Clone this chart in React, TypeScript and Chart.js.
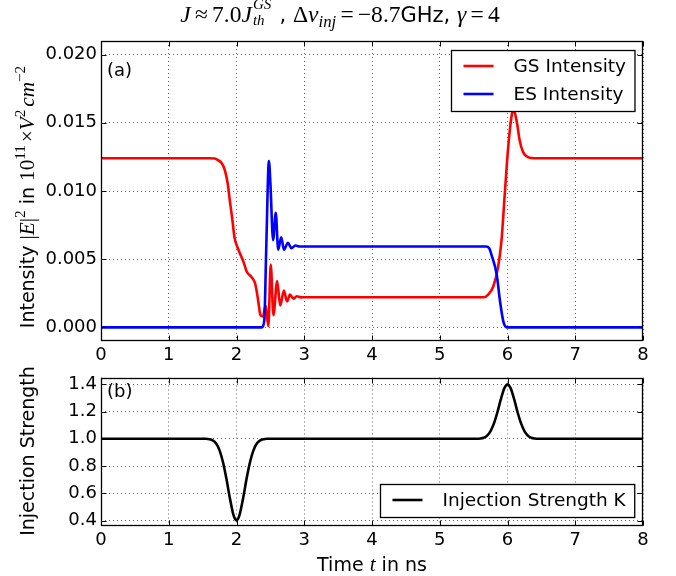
import React, { useEffect, useRef } from "react";
import { Chart, registerables } from "chart.js";

Chart.register(...registerables);

// ---- data -----------------------------------------------------------
// Ground-state intensity |E|^2 (10^11 V^2 cm^-2) vs time (ns)
const GS_TIME = [0, 1.6, 1.68, 1.72, 1.78, 1.83, 1.87, 1.9, 1.94, 1.97, 2.02, 2.1, 2.15, 2.22, 2.27, 2.3, 2.33, 2.35, 2.39, 2.43, 2.47, 2.505, 2.545, 2.6, 2.645, 2.7, 2.745, 2.79, 2.84, 2.89, 2.95, 3.0, 5.65, 5.715, 5.79, 5.86, 5.91, 5.96, 6.01, 6.06, 6.085, 6.11, 6.14, 6.18, 6.23, 6.3, 6.4, 8.0];
const GS_INTENSITY = [0.0124, 0.0124, 0.01238, 0.01228, 0.01205, 0.0115, 0.01055, 0.00935, 0.00785, 0.0066, 0.0058, 0.00485, 0.0041, 0.0037, 0.0033, 0.0026, 0.0016, 0.00095, 0.0008, 0.0016, 0.0001, 0.0046, 0.0009, 0.0034, 0.0016, 0.0027, 0.0019, 0.0024, 0.0021, 0.00228, 0.0022, 0.00221, 0.00221, 0.0024, 0.003, 0.0044, 0.0063, 0.0098, 0.0132, 0.0155, 0.016, 0.0157, 0.015, 0.0137, 0.01285, 0.01248, 0.0124, 0.0124];

// Excited-state intensity
const ES_TIME = [0, 2.37, 2.41, 2.44, 2.478, 2.5, 2.54, 2.58, 2.615, 2.66, 2.7, 2.76, 2.81, 2.87, 2.93, 5.68, 5.73, 5.765, 5.84, 5.89, 5.94, 5.99, 8.0];
const ES_INTENSITY = [0, 0, 0.0005, 0.006, 0.0122, 0.0106, 0.0064, 0.0084, 0.0057, 0.0066, 0.0057, 0.0062, 0.0058, 0.006, 0.00593, 0.00593, 0.0058, 0.0053, 0.0039, 0.0019, 0.0004, 0, 0];

// Injection strength K
const K_TIME = [0, 1.55, 1.6, 1.65, 1.7, 1.75, 1.8, 1.85, 1.9, 1.95, 1.975, 2.0, 2.025, 2.05, 2.1, 2.15, 2.2, 2.25, 2.3, 2.35, 2.4, 2.45, 5.55, 5.6, 5.65, 5.7, 5.75, 5.8, 5.85, 5.9, 5.95, 5.975, 6.0, 6.025, 6.05, 6.1, 6.15, 6.2, 6.25, 6.3, 6.35, 6.4, 6.45, 8];
const K_VALUE = [1, 1, 0.997, 0.988, 0.965, 0.915, 0.83, 0.71, 0.57, 0.45, 0.415, 0.4, 0.415, 0.45, 0.57, 0.71, 0.83, 0.915, 0.965, 0.988, 0.997, 1, 1, 1.002, 1.008, 1.023, 1.057, 1.113, 1.193, 1.287, 1.367, 1.39, 1.4, 1.39, 1.367, 1.287, 1.193, 1.113, 1.057, 1.023, 1.008, 1.002, 1, 1];

// ---- axes -----------------------------------------------------------
const TIME_TICKS = [0, 1, 2, 3, 4, 5, 6, 7, 8];
const INTENSITY_TICKS = [0, 0.005, 0.01, 0.015, 0.02];
const STRENGTH_TICKS = [0.4, 0.6, 0.8, 1.0, 1.2, 1.4];

const SANS = '"DejaVu Sans", Verdana, sans-serif';
const MATH = '"Liberation Serif", "DejaVu Serif", serif';
const TICK_FONT = { family: SANS, size: 18 };
const GRID_COLOR = "rgba(0,0,0,0.6)";

type LegendItem = { label: string; color: string };

// frame, inward tick marks, panel tag and boxed legend
const panelDecor = {
  id: "panelDecor",
  afterDatasetsDraw(chart: any, _args: any, opts: any) {
    const { ctx, chartArea: a, scales } = chart;
    const L = Math.round(a.left) + 0.5;
    const R = Math.round(a.right) - 0.5;
    const T = Math.round(a.top) + 0.5;
    const B = Math.round(a.bottom) - 0.5;
    ctx.save();
    ctx.strokeStyle = "#000";
    ctx.lineWidth = 1;
    const tl = 5;
    ctx.beginPath();
    for (const t of scales.x.ticks) {
      const px = Math.round(scales.x.getPixelForValue(t.value)) + 0.5;
      ctx.moveTo(px, B); ctx.lineTo(px, B - tl);
      ctx.moveTo(px, T); ctx.lineTo(px, T + tl);
    }
    for (const t of scales.y.ticks) {
      const py = Math.round(scales.y.getPixelForValue(t.value)) + 0.5;
      ctx.moveTo(L, py); ctx.lineTo(L + tl, py);
      ctx.moveTo(R, py); ctx.lineTo(R - tl, py);
    }
    ctx.stroke();
    ctx.lineWidth = 1.3;
    ctx.strokeRect(L, T, R - L, B - T);

    // panel tag
    ctx.fillStyle = "#000";
    ctx.font = `18px ${SANS}`;
    ctx.textBaseline = "middle";
    ctx.textAlign = "left";
    ctx.fillText(opts.tag, a.left + 6, a.top + 0.1 * (a.bottom - a.top));

    // legend
    const items: LegendItem[] = opts.items;
    ctx.font = `18.5px ${SANS}`;
    const padL = 12, padR = 9, lineLen = 30, gap = 20, rowH = 28, inset = 9;
    const textW = Math.max(...items.map((it) => ctx.measureText(it.label).width));
    const boxW = padL + lineLen + gap + textW + padR;
    const boxH = 33 + rowH * (items.length - 1);
    const bx = Math.round(a.right - inset - boxW) + 0.5;
    const by = opts.corner === "upper"
      ? Math.round(a.top + inset) + 0.5
      : Math.round(a.bottom - inset - boxH) + 0.5;
    ctx.fillStyle = "#fff";
    ctx.fillRect(bx, by, boxW, boxH);
    ctx.lineWidth = 1.3;
    ctx.strokeStyle = "#000";
    ctx.strokeRect(bx, by, boxW, boxH);
    items.forEach((it, i) => {
      const cy = by + 15.5 + rowH * i;
      ctx.strokeStyle = it.color;
      ctx.lineWidth = 2.6;
      ctx.beginPath();
      ctx.moveTo(bx + padL, cy);
      ctx.lineTo(bx + padL + lineLen, cy);
      ctx.stroke();
      ctx.fillStyle = "#000";
      ctx.fillText(it.label, bx + padL + lineLen + gap, cy + 1);
    });
    ctx.restore();
  },
};

function series(xs: number[], ys: number[]) {
  return xs.map((x, i) => ({ x, y: ys[i] }));
}

function panelOptions(p: {
  yMin: number; yMax: number; yTicks: number[]; yFmt: (v: number) => string;
  padTop: number; xAxisH: number; tag: string; items: LegendItem[]; corner: string;
}): any {
  const grid = { color: GRID_COLOR, lineWidth: 1, drawTicks: false };
  const border = { display: false, dash: [1, 3] };
  return {
    responsive: false,
    animation: false,
    events: [],
    layout: { padding: { top: p.padTop, right: 33, left: 0, bottom: 0 } },
    plugins: {
      legend: { display: false },
      tooltip: { enabled: false },
      title: { display: false },
      panelDecor: { tag: p.tag, items: p.items, corner: p.corner },
    },
    scales: {
      x: {
        type: "linear",
        min: 0,
        max: 8,
        afterBuildTicks: (s: any) => { s.ticks = TIME_TICKS.map((value) => ({ value })); },
        afterFit: (s: any) => { s.height = p.xAxisH; },
        border,
        grid,
        ticks: { font: TICK_FONT, color: "#000", padding: 4, autoSkip: false, maxRotation: 0, callback: (v: number) => String(v) },
      },
      y: {
        type: "linear",
        min: p.yMin,
        max: p.yMax,
        afterBuildTicks: (s: any) => { s.ticks = p.yTicks.map((value) => ({ value })); },
        afterFit: (s: any) => { s.width = 101; },
        border,
        grid,
        ticks: { font: TICK_FONT, color: "#000", padding: 4, autoSkip: false, callback: (v: number) => p.yFmt(v) },
      },
    },
  };
}

const lineStyle = { pointRadius: 0, borderWidth: 2.6, fill: false, cubicInterpolationMode: "monotone" as const };

type Kids = { children: React.ReactNode };
const M = ({ children }: Kids) => (
  <span style={{ fontFamily: MATH, fontStyle: "italic", fontSize: "1.12em" }}>{children}</span>
);
const R = ({ children }: Kids) => (
  <span style={{ fontFamily: MATH, fontSize: "1.12em" }}>{children}</span>
);
const Sup = ({ children }: Kids) => (
  <span style={{ fontFamily: MATH, fontSize: "0.8em", verticalAlign: "0.6em" }}>{children}</span>
);
const Sub = ({ children }: Kids) => (
  <span style={{ fontFamily: MATH, fontStyle: "italic", fontSize: "0.8em", verticalAlign: "-0.3em" }}>{children}</span>
);
const Gap = ({ w = 0.2 }: { w?: number }) => <span style={{ display: "inline-block", width: `${w}em` }} />;

export default function App() {
  const topRef = useRef<HTMLCanvasElement>(null);
  const botRef = useRef<HTMLCanvasElement>(null);

  useEffect(() => {
    const top = new Chart(topRef.current!, {
      type: "line",
      data: {
        datasets: [
          { label: "ES Intensity", data: series(ES_TIME, ES_INTENSITY), borderColor: "#0000ff", order: 0, ...lineStyle },
          { label: "GS Intensity", data: series(GS_TIME, GS_INTENSITY), borderColor: "#ff0000", order: 1, ...lineStyle },
        ],
      },
      options: panelOptions({
        yMin: -0.001, yMax: 0.021, yTicks: INTENSITY_TICKS, yFmt: (v) => v.toFixed(3),
        padTop: 41, xAxisH: 24, tag: "(a)", corner: "upper",
        items: [
          { label: "GS Intensity", color: "#ff0000" },
          { label: "ES Intensity", color: "#0000ff" },
        ],
      }),
      plugins: [panelDecor],
    });
    const bottom = new Chart(botRef.current!, {
      type: "line",
      data: {
        datasets: [
          { label: "Injection Strength K", data: series(K_TIME, K_VALUE), borderColor: "#000000", ...lineStyle },
        ],
      },
      options: panelOptions({
        yMin: 0.36, yMax: 1.45, yTicks: STRENGTH_TICKS, yFmt: (v) => v.toFixed(1),
        padTop: 17.5, xAxisH: 50, tag: "(b)", corner: "lower",
        items: [{ label: "Injection Strength K", color: "#000000" }],
      }),
      plugins: [panelDecor],
    });
    return () => { top.destroy(); bottom.destroy(); };
  }, []);

  return (
    <div style={{ position: "fixed", left: 0, top: 0, width: 676, height: 576, background: "#fff", overflow: "hidden" }}>
      <canvas ref={topRef} width={676} height={365} style={{ position: "absolute", left: 0, top: 0 }} />
      <canvas ref={botRef} width={676} height={216} style={{ position: "absolute", left: 0, top: 360 }} />

      {/* title */}
      <div style={{ position: "absolute", left: 340, top: 16, transform: "translate(-50%,-50%)", whiteSpace: "nowrap", fontSize: 21, fontFamily: SANS, lineHeight: 1 }}>
        <M>J</M><Gap /><R>≈</R><Gap /><R>7.0</R><M>J</M>
        <span style={{ display: "inline-block", position: "relative", width: 21, height: 21, fontFamily: MATH, fontStyle: "italic", fontSize: 15 }}>
          <span style={{ position: "absolute", left: 1, top: -4, lineHeight: 1 }}>GS</span>
          <span style={{ position: "absolute", left: 1, top: 12, lineHeight: 1 }}>th</span>
        </span>
        <span> , </span><R>Δ</R><M>ν</M><Sub>inj</Sub><Gap /><R>=</R><Gap /><R>−8.7</R><span>GHz, </span><M>γ</M><Gap /><R>=</R><Gap /><R>4</R>
      </div>

      {/* y label, top panel */}
      <div style={{ position: "absolute", left: 25, top: 197, transform: "translate(-50%,-50%) rotate(-90deg)", whiteSpace: "nowrap", fontSize: 19, fontFamily: SANS, lineHeight: 1 }}>
        Intensity <R>|</R><M>E</M><R>|</R><Sup>2</Sup> in <R>10</R><Sup>11</Sup><Gap w={0.15} /><R>×</R><M>V</M><Sup>2</Sup><Gap w={0.15} /><M>cm</M><Sup>−2</Sup>
      </div>

      {/* y label, bottom panel */}
      <div style={{ position: "absolute", left: 27, top: 451, transform: "translate(-50%,-50%) rotate(-90deg)", whiteSpace: "nowrap", fontSize: 19, fontFamily: SANS, lineHeight: 1 }}>
        Injection Strength
      </div>

      {/* x label */}
      <div style={{ position: "absolute", left: 372, top: 565, transform: "translate(-50%,-50%)", whiteSpace: "nowrap", fontSize: 19, fontFamily: SANS, lineHeight: 1 }}>
        Time <M>t</M> in ns
      </div>
    </div>
  );
}
